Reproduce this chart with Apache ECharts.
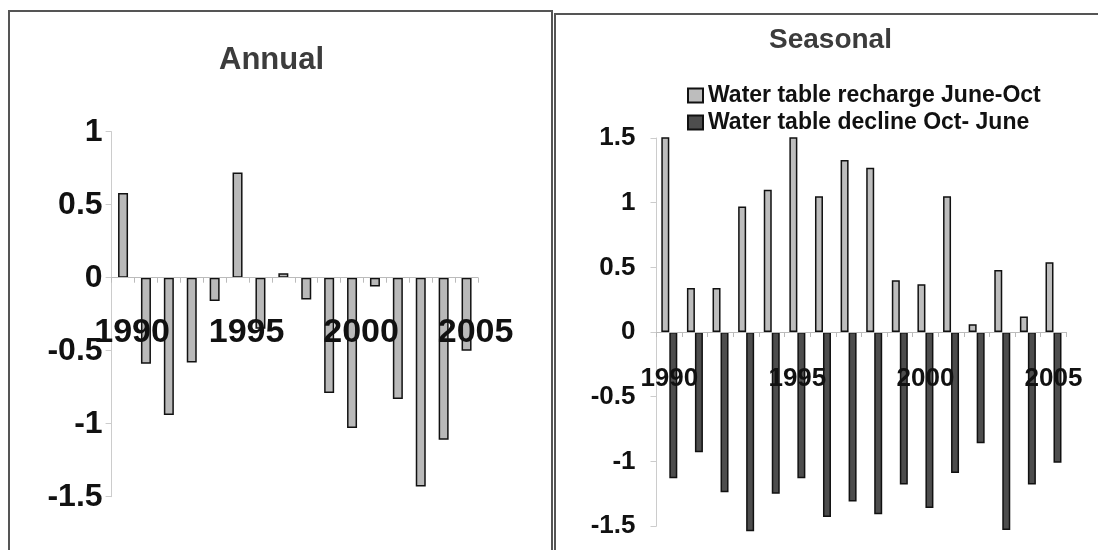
<!DOCTYPE html>
<html>
<head>
<meta charset="utf-8">
<script src="https://cdn.jsdelivr.net/npm/echarts@6/dist/echarts.min.js"></script>
<style>
html,body{margin:0;padding:0;background:#fff;}
#c{width:1098px;height:550px;}
</style>
</head>
<body>
<div id="c"></div>
<script>
// ---- data ----
const years = ['1990','1991','1992','1993','1994','1995','1996','1997','1998','1999','2000','2001','2002','2003','2004','2005'];
const annual = [0.58,-0.59,-0.94,-0.58,-0.16,0.72,-0.35,0.03,-0.15,-0.79,-1.03,-0.06,-0.83,-1.43,-1.11,-0.50];
const recharge = [1.55,0.34,0.34,0.97,1.10,1.55,1.05,1.33,1.27,0.40,0.37,1.05,0.06,0.48,0.12,0.54];
const decline = [-1.13,-0.93,-1.24,-1.54,-1.25,-1.13,-1.43,-1.31,-1.41,-1.18,-1.36,-1.09,-0.86,-1.53,-1.18,-1.01];
const annualTicks = [-1.5,-1,-0.5,0,0.5,1];
const seasonalTicks = [-1.5,-1,-0.5,0,0.5,1,1.5];
const titles = ['Annual','Seasonal'];
const seriesNames = ['Water table recharge June-Oct','Water table decline Oct- June'];

const FF = "'Liberation Sans', Arial, Helvetica, sans-serif";
const chart = echarts.init(document.getElementById('c'), null, {renderer:'canvas'});
const labelEvery5 = (i) => i % 5 === 0;
const fmtNum = (v) => String(v);

// grid layout (pixels)
const G0 = {left:111.6, top:131.7, width:366.4, height:365};
const G1 = {left:656.5, top:138, width:409.8, height:388};
// distance from grid bottom to the zero line (layout only)
const zeroOff0 = G0.height * (0 - annualTicks[0]) / (annualTicks[annualTicks.length-1] - annualTicks[0]);
const zeroOff1 = G1.height * (0 - seasonalTicks[0]) / (seasonalTicks[seasonalTicks.length-1] - seasonalTicks[0]);

chart.setOption({
  animation:false,
  backgroundColor:'#fff',
  textStyle:{fontFamily:FF},
  title:[
    {text:titles[0], left:219, top:45, padding:0, textStyle:{fontFamily:FF, fontSize:31, fontWeight:'bold', color:'#3c3c3c'}},
    {text:titles[1], left:769, top:26, padding:0, textStyle:{fontFamily:FF, fontSize:28, fontWeight:'bold', color:'#3c3c3c'}}
  ],
  legend:{
    data:seriesNames,
    orient:'vertical',
    left:687, top:84, padding:0,
    itemWidth:15, itemHeight:14, itemGap:4,
    icon:'rect',
    textStyle:{fontFamily:FF, fontSize:23, fontWeight:'bold', color:'#111'}
  },
  graphic:[
    {type:'rect', shape:{x:9, y:11, width:543, height:545}, style:{fill:'none', stroke:'#555', lineWidth:2}, silent:true},
    {type:'rect', shape:{x:555, y:14, width:560, height:540}, style:{fill:'none', stroke:'#555', lineWidth:2}, silent:true}
  ],
  grid:[
    Object.assign({outerBoundsMode:'none', containLabel:false}, G0),
    Object.assign({outerBoundsMode:'none', containLabel:false}, G1)
  ],
  xAxis:[
    {gridIndex:0, type:'category', data:years, z:10, position:'bottom', offset:-zeroOff0,
     axisLine:{show:true, onZero:false, lineStyle:{color:'#bbb', width:1}},
     axisTick:{show:true, interval:0, length:5, lineStyle:{color:'#bbb'}},
     axisLabel:{interval:0, formatter:(v,i)=>labelEvery5(i)?v:'', margin:38, padding:[0,0,0,18],
       fontFamily:FF, fontSize:34, fontWeight:'bold', color:'#111'}},
    {gridIndex:1, type:'category', data:years, z:10, position:'bottom', offset:-zeroOff1,
     axisLine:{show:true, onZero:false, lineStyle:{color:'#bbb', width:1}},
     axisTick:{show:true, interval:0, length:5, lineStyle:{color:'#bbb'}},
     axisLabel:{interval:0, formatter:(v,i)=>labelEvery5(i)?v:'', margin:34,
       fontFamily:FF, fontSize:26, fontWeight:'bold', color:'#111'}}
  ],
  yAxis:[
    {gridIndex:0, type:'value', min:annualTicks[0], max:annualTicks[annualTicks.length-1], interval:0.5,
     splitLine:{show:false},
     axisLine:{show:true, lineStyle:{color:'#ccc'}},
     axisTick:{show:true, length:6, lineStyle:{color:'#ccc'}},
     axisLabel:{margin:9, formatter:fmtNum, fontFamily:FF, fontSize:32, fontWeight:'bold', color:'#111'}},
    {gridIndex:1, type:'value', min:seasonalTicks[0], max:seasonalTicks[seasonalTicks.length-1], interval:0.5,
     splitLine:{show:false},
     axisLine:{show:true, lineStyle:{color:'#ccc'}},
     axisTick:{show:true, length:6, lineStyle:{color:'#ccc'}},
     axisLabel:{margin:21, formatter:fmtNum, fontFamily:FF, fontSize:26, fontWeight:'bold', color:'#111'}}
  ],
  series:[
    {name:'Annual', type:'bar', xAxisIndex:0, yAxisIndex:0, data:annual, barWidth:10,
     itemStyle:{color:'#b9b9b9', borderColor:'#111', borderWidth:1.5}},
    {name:seriesNames[0], type:'bar', xAxisIndex:1, yAxisIndex:1, data:recharge, barWidth:8, barGap:'0%', clip:true,
     itemStyle:{color:'#bdbdbd', borderColor:'#111', borderWidth:1.5}},
    {name:seriesNames[1], type:'bar', xAxisIndex:1, yAxisIndex:1, data:decline, barWidth:8, barGap:'0%', clip:false,
     itemStyle:{color:'#4d4d4d', borderColor:'#111', borderWidth:1.5}}
  ]
});
</script>
</body>
</html>
